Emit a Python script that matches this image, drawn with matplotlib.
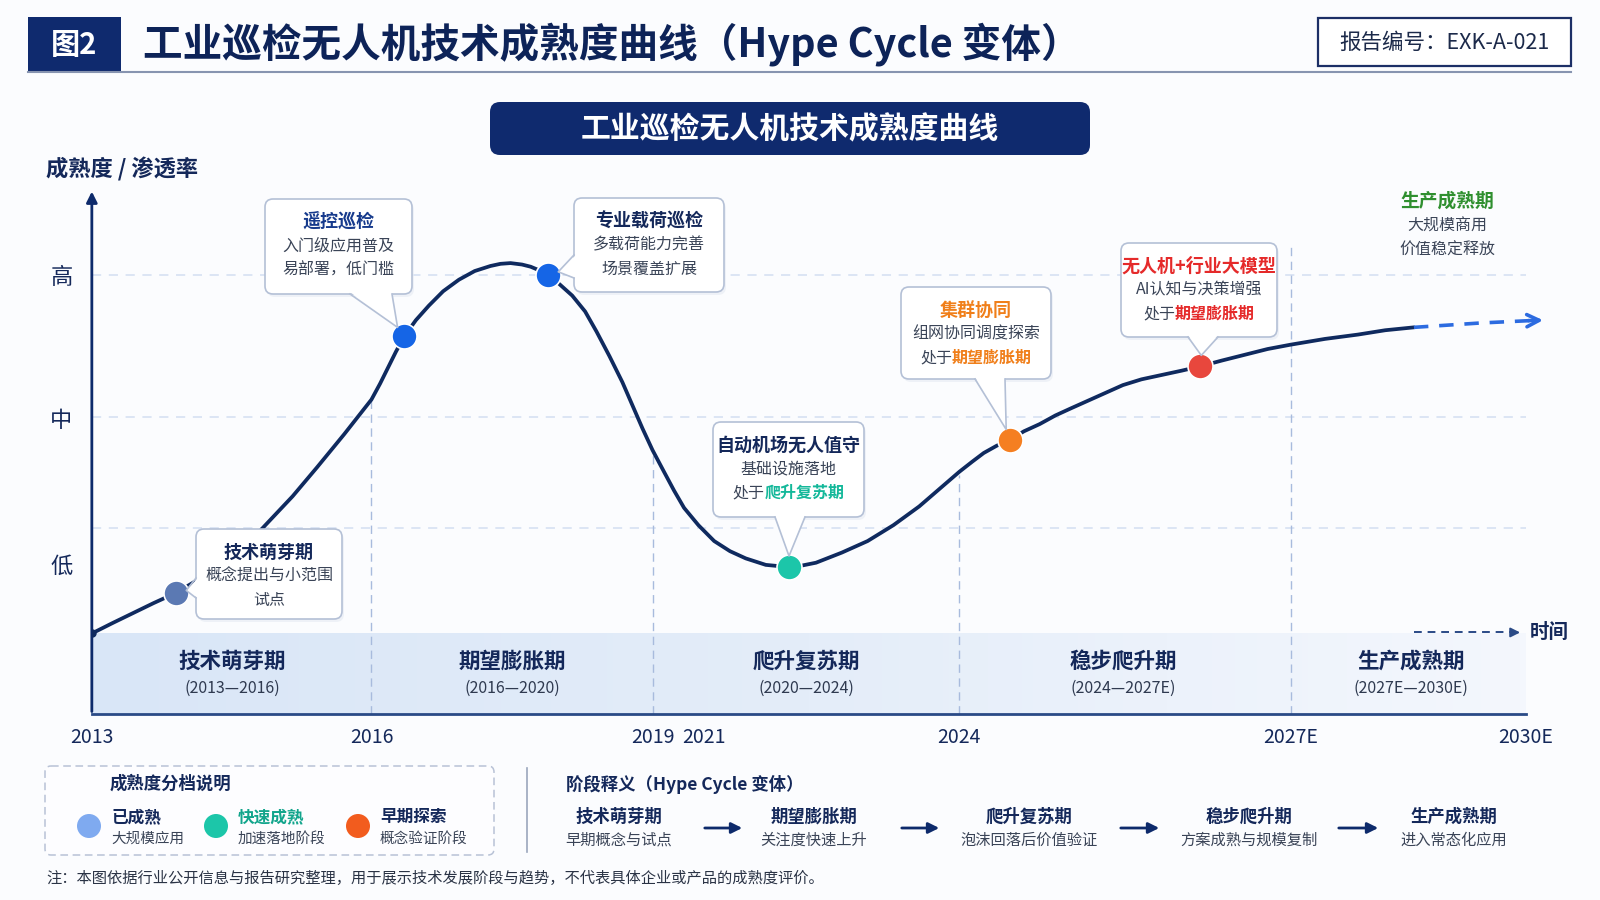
import numpy as np
import matplotlib.pyplot as plt
from matplotlib.patches import FancyBboxPatch, Rectangle, Circle, Polygon
from matplotlib.colors import LinearSegmentedColormap

plt.rcParams['font.family'] = ['Noto Sans CJK SC', 'DejaVu Sans']

# ---- data: timeline position (0 = 2013, 100 = 2030E), maturity (1 低, 2 中, 3 高)
curve_x = [0, 1.4, 2.85, 4.3, 5.84, 7.2, 8.54, 10.5, 12.1, 14.0, 15.7, 17.6, 19.5, 20.1, 20.6,
           21.2, 21.8, 22.6, 23.5, 24.5, 25.6, 26.7, 27.8, 28.5, 29.2, 30.0, 30.6, 31.2, 31.8,
           32.6, 33.5, 34.4, 35.2, 36.1, 37.0, 37.7, 38.4, 39.1, 39.9, 40.6, 41.3, 42.3, 43.4,
           44.5, 45.6, 47.0, 48.6, 49.5, 50.5, 52.3, 54.1, 55.9, 57.7, 59.1, 60.5, 61.4, 62.2,
           63.1, 64.0, 65.0, 66.1, 67.2, 68.3, 70.1, 71.9, 73.2, 74.6, 76.0, 77.3, 78.8, 80.4,
           82.0, 83.6, 86.0, 88.3, 90.2, 92.2]
curve_y = [0.52, 0.59, 0.66, 0.73, 0.80, 0.88, 0.96, 1.10, 1.27, 1.47, 1.67, 1.90, 2.14, 2.25, 2.35,
           2.47, 2.58, 2.69, 2.79, 2.89, 2.97, 3.03, 3.065, 3.08, 3.085, 3.075, 3.06, 3.035, 3.00,
           2.94, 2.86, 2.75, 2.61, 2.44, 2.26, 2.10, 1.94, 1.79, 1.64, 1.51, 1.39, 1.27, 1.16,
           1.09, 1.04, 0.995, 0.98, 0.99, 1.01, 1.08, 1.16, 1.27, 1.40, 1.52, 1.64, 1.71, 1.77,
           1.82, 1.86, 1.92, 1.97, 2.03, 2.08, 2.16, 2.24, 2.28, 2.31, 2.34, 2.37, 2.41, 2.45,
           2.49, 2.52, 2.56, 2.59, 2.62, 2.64]
future_x = [92.2, 96.8, 101.4]
future_y = [2.64, 2.67, 2.69]

tick_pos = [0, 19.5, 39.1, 42.7, 60.5, 83.6, 100]
tick_labels = ['2013', '2016', '2019', '2021', '2024', '2027E', '2030E']
phase_edges = [19.5, 39.1, 60.5, 83.6]
phase_tops = [2.14, 1.78, 1.62, 3.22]

level_pos = [1.0, 2.01, 3.0]
level_labels = ['低', '中', '高']
grid_y = [1.25, 2.02, 3.0]

stage_names = ['技术萌芽期', '期望膨胀期', '爬升复苏期', '稳步爬升期', '生产成熟期']
stage_years = ['(2013—2016)', '(2016—2020)', '(2020—2024)', '(2024—2027E)', '(2027E—2030E)']
stage_centers = [9.8, 29.3, 49.8, 71.9, 92.0]

tech_x = [5.84, 21.8, 31.8, 48.6, 64.0, 77.3]
tech_y = [0.80, 2.58, 3.00, 0.98, 1.86, 2.37]
tech_colors = ['#5b79b3', '#1565e6', '#1565e6', '#1cc6a9', '#f57f21', '#e8473d']
tech_titles = ['技术萌芽期', '遥控巡检', '专业载荷巡检', '自动机场无人值守', '集群协同', '无人机+行业大模型']
tech_title_colors = ['#14285a', '#163a8c', '#14285a', '#14285a', '#f07f1a', '#e52a2a']
tech_lines = [
    ['概念提出与小范围', '试点'],
    ['入门级应用普及', '易部署，低门槛'],
    ['多载荷能力完善', '场景覆盖扩展'],
    ['基础设施落地', ('处于', '爬升复苏期', '#14b89a')],
    ['组网协同调度探索', ('处于', '期望膨胀期', '#f07f1a')],
    ['AI认知与决策增强', ('处于', '期望膨胀期', '#e52a2a')],
]

legend_names = ['已成熟', '快速成熟', '早期探索']
legend_desc = ['大规模应用', '加速落地阶段', '概念验证阶段']
legend_colors = ['#7faaf0', '#1cc6a9', '#f25c1e']
legend_name_colors = ['#14285a', '#12a58c', '#14285a']

flow_desc = ['早期概念与试点', '关注度快速上升', '泡沫回落后价值验证', '方案成熟与规模复制', '进入常态化应用']

navy = '#0d2a6b'
dark = '#14285a'
edge = '#b4c0d6'

fig = plt.figure(figsize=(16, 9), dpi=100)
fig.patch.set_facecolor('#fbfcfe')

# ---- main chart axes
ax = fig.add_axes([0.0574, 0.2063, 0.9231, 0.584])
ax.set_facecolor('none')
ax.set_xlim(0, 103)
ax.set_ylim(-0.04, 3.6)
for s in ['top', 'right', 'left']:
    ax.spines[s].set_visible(False)
ax.spines['bottom'].set_bounds(0, 100)
ax.spines['bottom'].set_color('#2a4a86')
ax.spines['bottom'].set_linewidth(2)

ax.set_xticks(tick_pos)
ax.set_xticklabels(tick_labels, fontsize=14, color=dark)
ax.set_yticks(level_pos)
ax.set_yticklabels(level_labels, fontsize=16, color=dark)
ax.tick_params(length=0)
ax.tick_params(axis='x', pad=9)
ax.tick_params(axis='y', pad=14)

# band with gradient
cmap = LinearSegmentedColormap.from_list('band', ['#d9e6f7', '#e4edf9', '#f4f7fd'])
ax.imshow(np.linspace(0, 1, 256).reshape(1, -1), cmap=cmap, aspect='auto',
          extent=(0, 100, -0.04, 0.52), zorder=0)

for gy in grid_y:
    ax.hlines(gy, 0, 100, colors='#d3def1', linestyles=(0, (6, 5)), lw=1.1, zorder=1)
for xe, top in zip(phase_edges, phase_tops):
    ax.vlines(xe, -0.04, top, colors='#a8bbdd', linestyles=(0, (6, 4)), lw=1.0, zorder=1)

for xc, nm, yr in zip(stage_centers, stage_names, stage_years):
    ax.text(xc, 0.33, nm, ha='center', va='center', fontsize=15.5, fontweight='bold', color=dark, zorder=2)
    ax.text(xc, 0.14, yr, ha='center', va='center', fontsize=11.5, color='#2f3a50', zorder=2)

# y axis arrow
ax.annotate('', xy=(0, 3.6), xytext=(0, -0.04),
            arrowprops=dict(arrowstyle='-|>', color=navy, lw=2, mutation_scale=16), annotation_clip=False)

# curve
ax.plot(curve_x, curve_y, color='#0f2a5f', lw=2.7, solid_joinstyle='round', solid_capstyle='round', zorder=3)
ax.plot(future_x[:-1] + [100.6], future_y[:-1] + [2.688], color='#2c6be0', lw=2.6,
        linestyle=(0, (4, 3)), zorder=3)
ax.annotate('', xy=(future_x[-1], future_y[-1]), xytext=(100.0, 2.686),
            arrowprops=dict(arrowstyle='->', color='#2c6be0', lw=2.6, mutation_scale=22), annotation_clip=False)
ax.plot(curve_x[0], curve_y[0], 'o', color='#0f2a5f', ms=5, zorder=4)

for x, y, c in zip(tech_x, tech_y, tech_colors):
    ax.plot(x, y, 'o', ms=18, color=c, mec='white', mew=1.2, zorder=5)

# time arrow
ax.plot([92.2, 99.0], [0.527, 0.527], color='#2a4a86', lw=1.4, linestyle=(0, (4, 3)), zorder=2)
ax.annotate('', xy=(99.8, 0.527), xytext=(98.8, 0.527),
            arrowprops=dict(arrowstyle='-|>', color='#2a4a86', lw=1.4, mutation_scale=14))
ax.text(100.3, 0.527, '时间', ha='left', va='center', fontsize=14, fontweight='bold', color=dark)

# ---- decoration overlay in pixel coordinates
deco = fig.add_axes([0, 0, 1, 1], zorder=5)
deco.set_xlim(0, 1600)
deco.set_ylim(900, 0)
deco.axis('off')
deco.patch.set_visible(False)
fig.canvas.draw()


def to_px(x, y):
    d = ax.transData.transform((x, y))
    return deco.transData.inverted().transform(d)


# header
deco.add_patch(Rectangle((28, 17), 93, 55, fc='#0f2a6e', ec='none'))
deco.text(74, 45, '图2', ha='center', va='center', fontsize=21, fontweight='bold', color='white')
deco.text(143, 44, '工业巡检无人机技术成熟度曲线（Hype Cycle 变体）', ha='left', va='center',
          fontsize=28.5, fontweight='bold', color='#0d2358')
deco.plot([28, 1571], [72, 72], color='#8794b0', lw=1.5)
deco.add_patch(Rectangle((1318, 18), 253, 48, fc='white', ec='#1c2f66', lw=1.6))
deco.text(1444, 43, '报告编号：EXK-A-021', ha='center', va='center', fontsize=15.5, color='#1c2a4a')

deco.add_patch(FancyBboxPatch((490, 102), 600, 53, boxstyle='round,pad=0,rounding_size=10',
                              fc='#0f2a6e', ec='none'))
deco.text(790, 129, '工业巡检无人机技术成熟度曲线', ha='center', va='center', fontsize=21.5,
          fontweight='bold', color='white')
deco.text(46, 169, '成熟度 / 渗透率', ha='left', va='center', fontsize=16, fontweight='bold', color=dark)

# callout boxes (x0, y0, w, h) and tail base points
boxes = [(196, 529, 146, 90), (265, 199, 147, 95), (574, 198, 150, 94),
         (713, 422, 151, 95), (901, 287, 150, 92), (1121, 243, 156, 94)]
tails = [[(196, 578), (196, 598)], [(350, 294), (392, 294)], [(574, 255), (574, 278)],
         [(775, 517), (805, 517)], [(975, 379), (1005, 379)], [(1188, 337), (1218, 337)]]

for i in range(len(boxes)):
    x0, y0, w, h = boxes[i]
    cx = x0 + w / 2
    deco.add_patch(FancyBboxPatch((x0 + 2, y0 + 3), w, h, boxstyle='round,pad=0,rounding_size=8',
                                  fc='#e6ebf3', ec='none', zorder=1, alpha=0.6))
    deco.add_patch(FancyBboxPatch((x0, y0), w, h, boxstyle='round,pad=0,rounding_size=8',
                                  fc='white', ec=edge, lw=1.2, zorder=2))
    px, py = to_px(tech_x[i], tech_y[i])
    (b1x, b1y), (b2x, b2y) = tails[i]
    mx, my = (b1x + b2x) / 2, (b1y + b2y) / 2
    d = np.hypot(px - mx, py - my)
    tx, ty = px - (px - mx) / d * 11, py - (py - my) / d * 11
    if b1x == b2x:
        inner = [(b1x + 2, b1y), (b2x + 2, b2y)]
    else:
        inner = [(b1x, b1y - 2), (b2x, b2y - 2)]
    deco.add_patch(Polygon([inner[0], inner[1], (tx, ty)], closed=True, fc='white', ec='none', zorder=3))
    deco.plot([b1x, tx, b2x], [b1y, ty, b2y], color=edge, lw=1.2, zorder=3)

    deco.text(cx, y0 + 23, tech_titles[i], ha='center', va='center', fontsize=13,
              fontweight='bold', color=tech_title_colors[i], zorder=4)
    for j, ln in enumerate(tech_lines[i]):
        ly = y0 + 47 + j * 24
        if isinstance(ln, tuple):
            pre, hi, hc = ln
            cw = 11.5 * 100 / 72
            start = cx - (len(pre) + len(hi)) * cw / 2
            deco.text(start, ly, pre, ha='left', va='center', fontsize=11.5, color='#3a4457', zorder=4)
            deco.text(start + len(pre) * cw, ly, hi, ha='left', va='center', fontsize=11.5,
                      fontweight='bold', color=hc, zorder=4)
        else:
            deco.text(cx, ly, ln, ha='center', va='center', fontsize=11.5, color='#3a4457', zorder=4)

# maturity phase note (top right)
deco.text(1447, 201, '生产成熟期', ha='center', va='center', fontsize=13.5, fontweight='bold', color='#2f8f2f')
deco.text(1447, 226, '大规模商用', ha='center', va='center', fontsize=11.5, color='#3a4457')
deco.text(1447, 250, '价值稳定释放', ha='center', va='center', fontsize=11.5, color='#3a4457')

# ---- bottom legend
deco.add_patch(FancyBboxPatch((45, 766), 449, 89, boxstyle='round,pad=0,rounding_size=6',
                              fc='#fdfdff', ec='#b8c2d6', lw=1.1, linestyle=(0, (5, 3))))
deco.text(110, 784, '成熟度分档说明', ha='left', va='center', fontsize=12.5, fontweight='bold', color=dark)
leg_x = [89, 216, 358]
for lx, nm, ds, c, nc in zip(leg_x, legend_names, legend_desc, legend_colors, legend_name_colors):
    deco.add_patch(Circle((lx, 826), 12, fc=c, ec='none'))
    deco.text(lx + 22, 817, nm, ha='left', va='center', fontsize=12, fontweight='bold', color=nc)
    deco.text(lx + 22, 839, ds, ha='left', va='center', fontsize=10.5, color='#3a4457')

deco.plot([527, 527], [768, 852], color='#9aa6bd', lw=1.2)
deco.text(566, 784, '阶段释义（Hype Cycle 变体）', ha='left', va='center', fontsize=12.5,
          fontweight='bold', color=dark)
flow_x = [619, 814, 1029, 1249, 1454]
for fx, nm, ds in zip(flow_x, stage_names, flow_desc):
    deco.text(fx, 817, nm, ha='center', va='center', fontsize=12.5, fontweight='bold', color=dark)
    deco.text(fx, 840, ds, ha='center', va='center', fontsize=11, color='#3a4457')
for a, b in [(702, 745), (899, 942), (1118, 1162), (1336, 1381)]:
    deco.annotate('', xy=(b, 828), xytext=(a, 828),
                  arrowprops=dict(arrowstyle='-|>', color=navy, lw=2, mutation_scale=16))

deco.text(46, 878, '注：本图依据行业公开信息与报告研究整理，用于展示技术发展阶段与趋势，不代表具体企业或产品的成熟度评价。',
          ha='left', va='center', fontsize=11, color='#2a3345')

fig.savefig('out.png', dpi=100, facecolor=fig.get_facecolor())
